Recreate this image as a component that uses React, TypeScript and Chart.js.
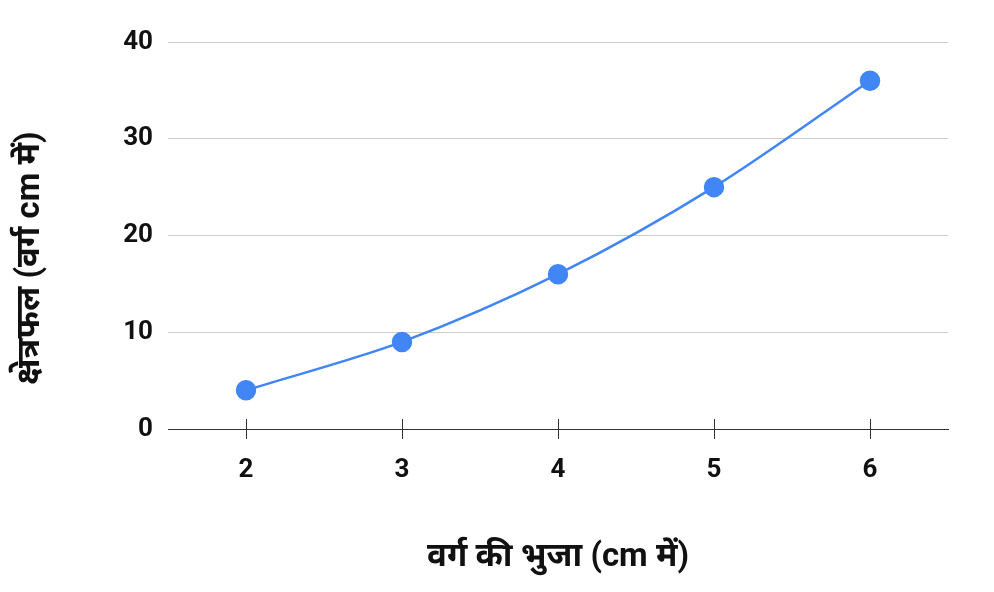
import React, { useEffect, useRef } from "react";
import { Chart, registerables } from "chart.js";

Chart.register(...registerables);

// Side length of the square (cm) and its area (sq cm)
const sides = ["2", "3", "4", "5", "6"];
const areas = [4, 9, 16, 25, 36];
const yTicks = [0, 10, 20, 30, 40];

const xTitle = "वर्ग की भुजा (cm में)";
const yTitle = "क्षेत्रफल (वर्ग cm में)";

const FONT = "Roboto, 'Noto Sans', 'Noto Sans Devanagari', sans-serif";
const BLUE = "#4285F4";

// Draws the axis titles and the small tick marks that cross the x axis.
const decorations = {
  id: "decorations",
  afterDraw(chart: any) {
    const { ctx, chartArea, scales } = chart;
    const xs = scales.x;
    ctx.save();
    ctx.strokeStyle = "#333333";
    ctx.lineWidth = 1;
    sides.forEach((_, i) => {
      const px = Math.round(xs.getPixelForValue(i)) + 0.5;
      ctx.beginPath();
      ctx.moveTo(px, chartArea.bottom - 10);
      ctx.lineTo(px, chartArea.bottom + 10);
      ctx.stroke();
    });

    ctx.fillStyle = "#111111";
    ctx.font = `bold 33px ${FONT}`;
    ctx.textAlign = "center";
    ctx.textBaseline = "middle";
    ctx.fillText(xTitle, (chartArea.left + chartArea.right) / 2, 558);

    ctx.translate(31, 258);
    ctx.rotate(-Math.PI / 2);
    ctx.fillText(yTitle, 0, 0);
    ctx.restore();
  },
};

export default function App() {
  const canvasRef = useRef<HTMLCanvasElement | null>(null);

  useEffect(() => {
    if (!canvasRef.current) return;
    const chart = new Chart(canvasRef.current, {
      type: "line",
      data: {
        labels: sides,
        datasets: [
          {
            data: areas,
            borderColor: BLUE,
            backgroundColor: BLUE,
            pointBackgroundColor: BLUE,
            pointBorderColor: BLUE,
            borderWidth: 2.5,
            pointRadius: 9,
            pointHoverRadius: 9,
            tension: 0.3,
            fill: false,
          },
        ],
      },
      options: {
        animation: false,
        responsive: false,
        maintainAspectRatio: false,
        layout: { padding: { top: 42, right: 46, bottom: 0, left: 0 } },
        plugins: {
          legend: { display: false },
          tooltip: { enabled: false },
        },
        scales: {
          x: {
            type: "category",
            offset: true,
            grid: { display: false, drawOnChartArea: false, drawTicks: false },
            border: { display: true, color: "#333333", width: 1 },
            ticks: {
              color: "#111111",
              font: { family: FONT, size: 26, weight: "bold" },
              padding: 26,
            },
            afterFit(scale: any) {
              scale.height = 163;
            },
          },
          y: {
            min: 0,
            max: 40,
            afterBuildTicks(scale: any) {
              scale.ticks = yTicks.map((v) => ({ value: v }));
            },
            grid: {
              color: (c: any) => (c.tick && c.tick.value === 0 ? "#333333" : "#cccccc"),
              lineWidth: 1,
              drawTicks: false,
            },
            border: { display: false },
            ticks: {
              color: "#111111",
              font: { family: FONT, size: 26, weight: "bold" },
              padding: 15,
            },
            afterFit(scale: any) {
              scale.width = 168;
            },
          },
        },
      },
      plugins: [decorations],
    });
    return () => chart.destroy();
  }, []);

  return (
    <div style={{ position: "absolute", left: 0, top: 0, width: 994, height: 592, background: "#ffffff" }}>
      <canvas ref={canvasRef} width={994} height={592} />
    </div>
  );
}
